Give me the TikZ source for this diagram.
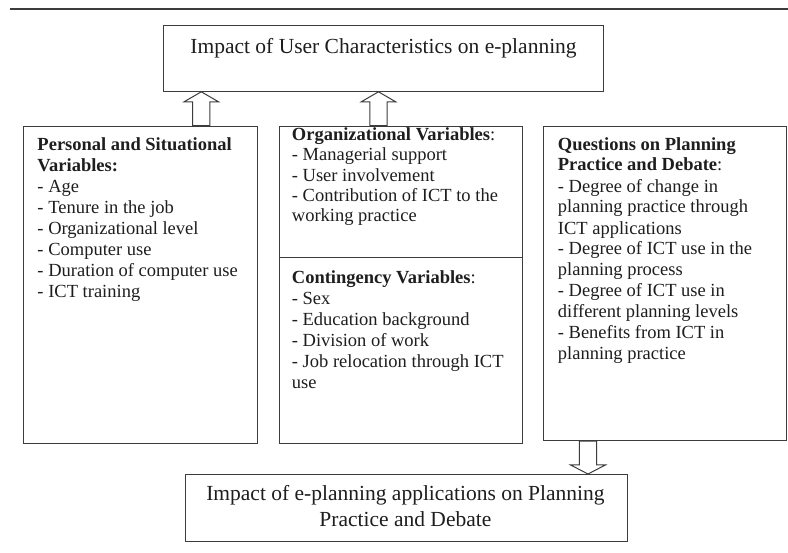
\documentclass[tikz,border=0pt]{standalone}
\usepackage{fontspec}
\setmainfont{Liberation Serif}
\usetikzlibrary{calc}
\definecolor{ln}{HTML}{3C3C3C}
\definecolor{tx}{HTML}{1E1E1E}
\begin{document}
\begin{tikzpicture}[x=1pt,y=1pt,
  box/.style={draw=ln, line width=1.1pt, inner sep=0pt, anchor=north west},
  body/.style={text=tx, inner sep=0pt, align=left, anchor=base west, font=\fontsize{18.5}{21}\selectfont},
  title/.style={text=tx, inner sep=0pt, align=center, anchor=base, font=\fontsize{21.5}{26.7}\selectfont},
  blockarrow/.style={draw=ln, line width=1pt, fill=white, line join=miter}]
\useasboundingbox (0,0) rectangle (788,-553);
\fill[white] (0,0) rectangle (788,-553);
\draw[ln, line width=1.3pt] (10,-9) -- (788,-9);

% boxes
\node[box, minimum width=440pt, minimum height=66pt] (top) at (163,-24.7) {};
\node[box, minimum width=234.6pt, minimum height=317pt] (pers) at (22.7,-125.7) {};
\node[box, minimum width=242.7pt, minimum height=131pt] (org) at (279,-125.7) {};
\node[box, minimum width=242.7pt, minimum height=186pt] (cont) at (279,-256.7) {};
\node[box, minimum width=242.4pt, minimum height=314.3pt] (ques) at (543.3,-125.7) {};
\node[box, minimum width=441.7pt, minimum height=66.7pt] (bot) at (185,-474) {};

% texts (multi-line nodes: base anchor is the baseline of the last line)
\node[title] (toptxt) at ($(top.north)+(0,-29.3)$) {Impact of User Characteristics on e-planning};
\node[title] (bottxt) at ($(bot.north)+(-1,-52.7)$) {Impact of e-planning applications on Planning\\Practice and Debate};

\node[body] (perstxt) at ($(pers.north west)+(14.6,-172)$) {\textbf{Personal and Situational}\\\textbf{Variables:}\\- Age\\- Tenure in the job\\- Organizational level\\- Computer use\\- Duration of computer use\\- ICT training};

\node[body, font=\fontsize{18.5}{20.25}\selectfont] (orgtxt) at ($(org.north west)+(12.7,-96)$) {\textbf{Organizational Variables}:\\- Managerial support\\- User involvement\\- Contribution of ICT to the\\working practice};

\node[body] (conttxt) at ($(cont.north west)+(12.7,-131.6)$) {\textbf{Contingency Variables}:\\- Sex\\- Education background\\- Division of work\\- Job relocation through ICT\\use};

\node[body] (questxt) at ($(ques.north west)+(14.4,-234.3)$) {\textbf{Questions on Planning}\\\textbf{Practice and Debate}:\\- Degree of change in\\planning practice through\\ICT applications\\- Degree of ICT use in the\\planning process\\- Degree of ICT use in\\different planning levels\\- Benefits from ICT in\\planning practice};

% block arrows
\coordinate (a1s) at ($(pers.north west)+(178.6,0)$);
\coordinate (a1e) at (a1s |- top.south);
\coordinate (a2s) at ($(org.north west)+(99.5,0)$);
\coordinate (a2e) at (a2s |- top.south);
\coordinate (a3s) at ($(ques.south west)+(44.7,0)$);
\coordinate (a3e) at (a3s |- bot.north);

\draw[blockarrow] ($(a1s)+(-8.65,0)$) -- ($(a1e)+(-8.65,-10)$) -- ($(a1e)+(-17.2,-10)$) -- (a1e) -- ($(a1e)+(17.2,-10)$) -- ($(a1e)+(8.65,-10)$) -- ($(a1s)+(8.65,0)$) -- cycle;
\draw[blockarrow] ($(a2s)+(-8.65,0)$) -- ($(a2e)+(-8.65,-10)$) -- ($(a2e)+(-17.2,-10)$) -- (a2e) -- ($(a2e)+(17.2,-10)$) -- ($(a2e)+(8.65,-10)$) -- ($(a2s)+(8.65,0)$) -- cycle;
\draw[blockarrow] ($(a3s)+(-8.65,0)$) -- ($(a3e)+(-8.65,9)$) -- ($(a3e)+(-17.4,9)$) -- (a3e) -- ($(a3e)+(17.4,9)$) -- ($(a3e)+(8.65,9)$) -- ($(a3s)+(8.65,0)$) -- cycle;
\end{tikzpicture}
\end{document}
